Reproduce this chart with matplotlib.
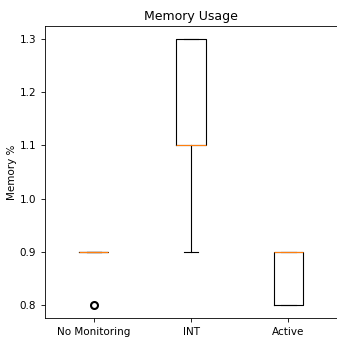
import matplotlib
matplotlib.use("Agg")
import matplotlib.pyplot as plt

categories = ["No Monitoring", "INT", "Active"]
no_monitoring = [0.9, 0.9, 0.9, 0.9, 0.8]
int_values = [0.9, 1.1, 1.1, 1.3, 1.3]
active = [0.8, 0.8, 0.9, 0.9, 0.9]

fig = plt.figure(figsize=(3.37, 3.42), dpi=100)
ax = fig.add_axes([0.134, 0.070, 0.866, 0.854])
lw = 0.8
ax.boxplot([no_monitoring, int_values, active], tick_labels=categories,
           boxprops=dict(linewidth=lw), whiskerprops=dict(linewidth=lw),
           capprops=dict(linewidth=lw), medianprops=dict(linewidth=lw),
           flierprops=dict(markersize=5, markeredgewidth=1.5))
ax.set_title("Memory Usage", fontsize=9, pad=4)
ax.set_ylabel("Memory %", fontsize=7.5, labelpad=2)
ax.tick_params(labelsize=7.5, width=0.6, length=3)
for s in ax.spines.values():
    s.set_linewidth(0.6)
ax.set_yticks([0.8, 0.9, 1.0, 1.1, 1.2, 1.3])
fig.savefig("out.png", dpi=100)
